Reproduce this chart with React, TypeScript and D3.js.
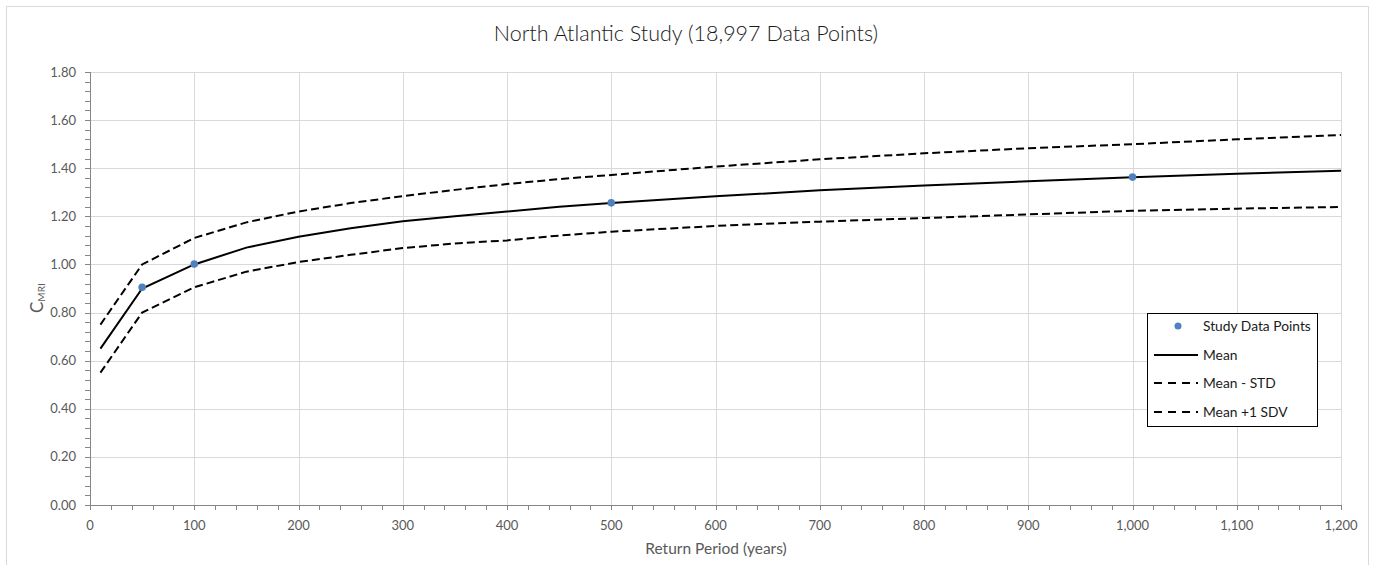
import React from "react";
import * as d3 from "d3";

const returnPeriods = [10, 50, 100, 150, 200, 250, 300, 350, 400, 450, 500, 600, 700, 800, 900, 1000, 1100, 1200];
const meanValues = [0.65, 0.90, 1.00, 1.07, 1.115, 1.15, 1.18, 1.20, 1.22, 1.24, 1.255, 1.283, 1.308, 1.328, 1.346, 1.362, 1.377, 1.39];
const upperValues = [0.75, 1.00, 1.11, 1.175, 1.22, 1.255, 1.284, 1.31, 1.334, 1.355, 1.372, 1.407, 1.437, 1.462, 1.483, 1.50, 1.52, 1.538];
const lowerValues = [0.55, 0.80, 0.905, 0.97, 1.01, 1.04, 1.068, 1.087, 1.10, 1.12, 1.136, 1.16, 1.178, 1.193, 1.208, 1.223, 1.232, 1.239];
const studyX = [50, 100, 500, 1000];
const studyY = [0.905, 1.002, 1.256, 1.363];
const xTicks = [0, 100, 200, 300, 400, 500, 600, 700, 800, 900, 1000, 1100, 1200];
const yTicks = [0, 0.2, 0.4, 0.6, 0.8, 1.0, 1.2, 1.4, 1.6, 1.8];
const legendLabels = ["Study Data Points", "Mean", "Mean - STD", "Mean +1 SDV"];

const W = 1376;
const H = 565;
const FONT = "Lato, 'Open Sans', sans-serif";

export default function App() {
  const x = d3.scaleLinear().domain([0, 1200]).range([90, 1341]);
  const y = d3.scaleLinear().domain([0, 1.8]).range([505, 72]);
  const line = d3
    .line<[number, number]>()
    .x((d) => x(d[0]))
    .y((d) => y(d[1]));
  const pts = (vals: number[]) => returnPeriods.map((r, i) => [r, vals[i]] as [number, number]);

  const xMinor = d3.range(0, 1201, 20);
  const yMinor = d3.range(0, 1.8001, 0.04);
  const tickColor = "#595959";
  const axisColor = "#868686";
  const gridColor = "#d9d9d9";

  const legendX = 1147;
  const legendY = 313;
  const rowY = [326, 355, 383, 412];

  return (
    <svg
      width={W}
      height={H}
      style={{ position: "absolute", left: 0, top: 0, background: "#fff" }}
      fontFamily={FONT}
    >
      <rect x={0} y={0} width={W} height={H} fill="#fff" />
      <rect x={6.5} y={6.5} width={1362} height={570} fill="none" stroke="#d9d9d9" strokeWidth={1} />
      <text x={686} y={41} textAnchor="middle" fontSize={21.5} fill="#1a1a1a" fontWeight={300}>
        North Atlantic Study (18,997 Data Points)
      </text>

      {/* grid */}
      {yTicks.slice(1).map((t) => (
        <line key={"gy" + t} x1={90} x2={1341} y1={Math.round(y(t)) + 0.5} y2={Math.round(y(t)) + 0.5} stroke={gridColor} />
      ))}
      {xTicks.slice(1).map((t) => (
        <line key={"gx" + t} y1={72} y2={505} x1={Math.round(x(t)) + 0.5} x2={Math.round(x(t)) + 0.5} stroke={gridColor} />
      ))}

      {/* axes */}
      <line x1={90} x2={1341} y1={505.5} y2={505.5} stroke={axisColor} />
      <line x1={90.5} x2={90.5} y1={72} y2={505} stroke={axisColor} />
      {xMinor.map((t) => (
        <line key={"xm" + t} x1={Math.round(x(t)) + 0.5} x2={Math.round(x(t)) + 0.5} y1={505} y2={510} stroke={axisColor} />
      ))}
      {yMinor.map((t, i) => (
        <line key={"ym" + i} x1={85} x2={90} y1={Math.round(y(t)) + 0.5} y2={Math.round(y(t)) + 0.5} stroke={axisColor} />
      ))}
      {xTicks.map((t) => (
        <text key={"xl" + t} x={x(t)} y={530} textAnchor="middle" fontSize={13} fill={tickColor}>
          {d3.format(",")(t)}
        </text>
      ))}
      {yTicks.map((t) => (
        <text key={"yl" + t} x={76} y={y(t) + 4.5} textAnchor="end" fontSize={13} fill={tickColor}>
          {t.toFixed(2)}
        </text>
      ))}
      <text x={716} y={554} textAnchor="middle" fontSize={15.5} fill={tickColor}>
        Return Period (years)
      </text>
      <text transform="translate(43,313) rotate(-90)" fontSize={17} fill={tickColor}>
        C<tspan fontSize={10} dy={2}>MRI</tspan>
      </text>

      {/* series */}
      <path d={line(pts(upperValues)) || ""} fill="none" stroke="#000" strokeWidth={2} strokeDasharray="8,4" />
      <path d={line(pts(lowerValues)) || ""} fill="none" stroke="#000" strokeWidth={2} strokeDasharray="8,4" />
      <path d={line(pts(meanValues)) || ""} fill="none" stroke="#000" strokeWidth={2} />
      {studyX.map((sx, i) => (
        <circle key={"p" + sx} cx={x(sx)} cy={y(studyY[i])} r={3.8} fill="#4f81bd" />
      ))}

      {/* legend */}
      <rect x={legendX + 0.5} y={legendY + 0.5} width={170} height={113} fill="#fff" stroke="#000" />
      <circle cx={1178} cy={rowY[0]} r={3.5} fill="#4f81bd" />
      <line x1={1154} x2={1198} y1={rowY[1]} y2={rowY[1]} stroke="#000" strokeWidth={2} />
      <line x1={1154} x2={1198} y1={rowY[2]} y2={rowY[2]} stroke="#000" strokeWidth={2} strokeDasharray="8,6" />
      <line x1={1154} x2={1198} y1={rowY[3]} y2={rowY[3]} stroke="#000" strokeWidth={2} strokeDasharray="8,6" />
      {legendLabels.map((l, i) => (
        <text key={l} x={1203} y={rowY[i] + 5} fontSize={13.8} fill="#1a1a1a">
          {l}
        </text>
      ))}
    </svg>
  );
}
